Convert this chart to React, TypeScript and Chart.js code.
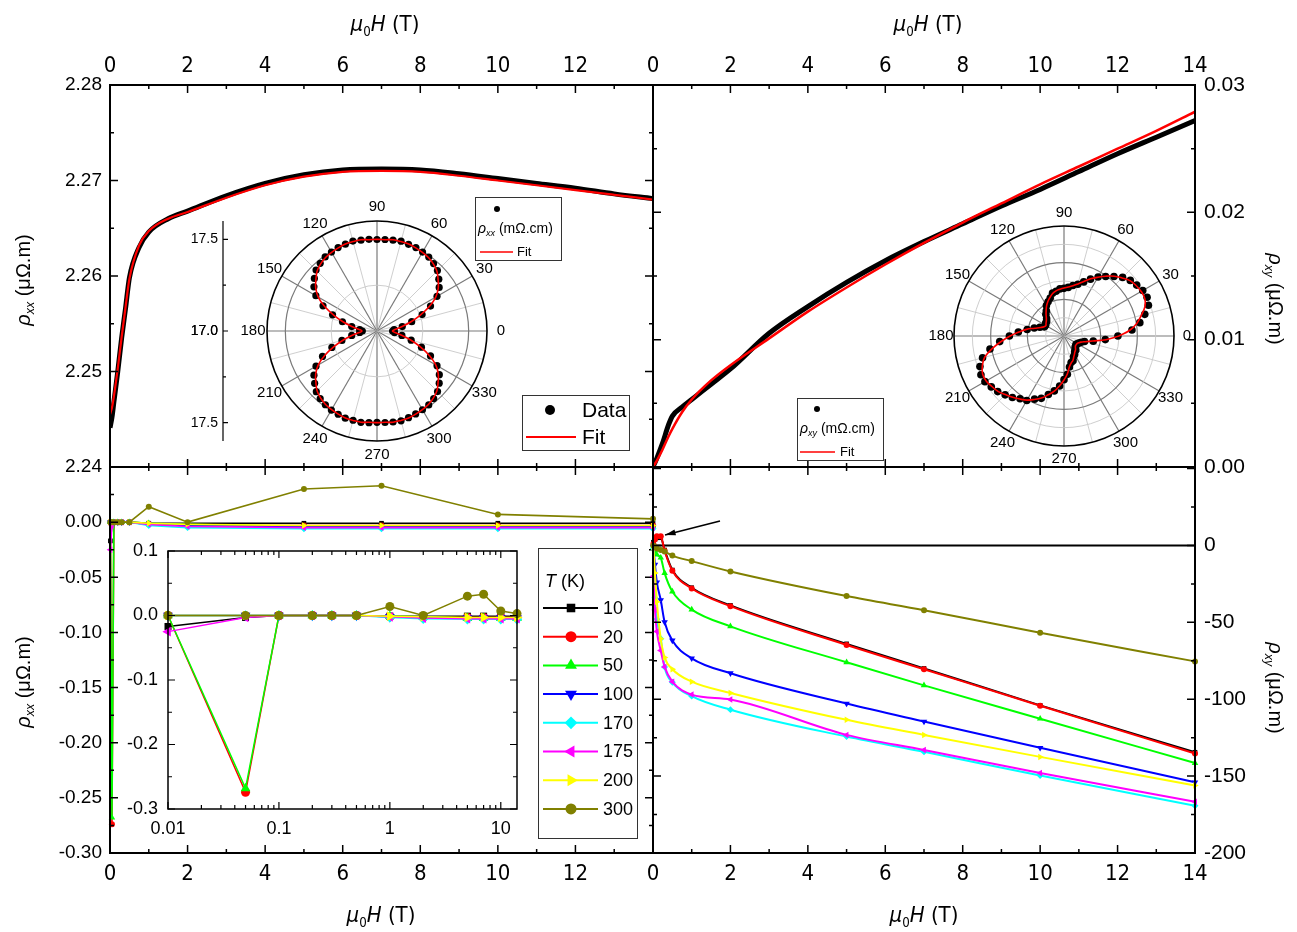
import React, { useEffect, useRef } from 'react';
import { Chart, registerables } from 'chart.js';

Chart.register(...registerables);

const W = 1297;
const HT = 932;
const SANS = "'Liberation Sans', Arial, Helvetica, sans-serif";
const NARROW = "'Liberation Sans Narrow', 'Arial Narrow', 'DejaVu Sans Condensed', 'Liberation Sans', sans-serif";

// ---------------- Top-left: rho_xx vs field ----------------
const H_XX = [0, 0.05, 0.1, 0.2, 0.3, 0.4, 0.5, 0.75, 1, 1.5, 2, 3, 4, 5, 6, 7, 8, 9, 10, 11, 12, 13, 14];
const RHO_XX_DATA = [2.2441, 2.2452, 2.2468, 2.25, 2.2535, 2.2566, 2.2598, 2.263, 2.2646, 2.266, 2.2668, 2.2684, 2.2697, 2.2706, 2.2711, 2.2712, 2.2711, 2.2707, 2.2702, 2.2697, 2.2692, 2.2686, 2.2681];
const RHO_XX_FIT = [2.2455, 2.2462, 2.2474, 2.2503, 2.2536, 2.2567, 2.2597, 2.2632, 2.2647, 2.266, 2.2667, 2.2682, 2.2695, 2.2704, 2.2709, 2.271, 2.2709, 2.2705, 2.27, 2.2695, 2.269, 2.2685, 2.268];

// ---------------- Top-right: rho_xy vs field ----------------
const H_XY = [0, 0.1, 0.25, 0.4, 0.5, 0.75, 1, 1.5, 2, 3, 4, 5, 6, 7, 8, 9, 10, 11, 12, 13, 14];
const RHO_XY_DATA = [0, 0.0007, 0.0019, 0.0033, 0.004, 0.0047, 0.0053, 0.0065, 0.0077, 0.0105, 0.0126, 0.0145, 0.0162, 0.0177, 0.0191, 0.0205, 0.0218, 0.0232, 0.0246, 0.0259, 0.0272];
const RHO_XY_FIT = [0, 0.0005, 0.0014, 0.0024, 0.003, 0.0043, 0.0053, 0.0068, 0.008, 0.0101, 0.0122, 0.0141, 0.0159, 0.0176, 0.0192, 0.0207, 0.0222, 0.0236, 0.025, 0.0264, 0.0279];

// ---------------- Polar insets (angle in degrees) ----------------
const ANGLES = [0, 5, 10, 15, 20, 25, 30, 35, 40, 45, 50, 55, 60, 65, 70, 75, 80, 85, 90, 95, 100, 105, 110, 115, 120, 125, 130, 135, 140, 145, 150, 155, 160, 165, 170, 175, 180, 185, 190, 195, 200, 205, 210, 215, 220, 225, 230, 235, 240, 245, 250, 255, 260, 265, 270, 275, 280, 285, 290, 295, 300, 305, 310, 315, 320, 325, 330, 335, 340, 345, 350, 355];
const POLAR_XX_FIT = [
  17.082, 17.098, 17.136, 17.19, 17.25, 17.315, 17.37, 17.408, 17.435, 17.462, 17.478, 17.489, 17.495, 17.5, 17.505, 17.505, 17.505, 17.5, 17.5,
  17.5, 17.505, 17.505, 17.505, 17.5, 17.495, 17.489, 17.478, 17.462, 17.435, 17.408, 17.37, 17.315, 17.25, 17.19, 17.136, 17.098, 17.082,
  17.098, 17.136, 17.19, 17.25, 17.315, 17.37, 17.408, 17.435, 17.462, 17.478, 17.489, 17.495, 17.5, 17.505, 17.505, 17.505, 17.5, 17.5,
  17.5, 17.505, 17.505, 17.505, 17.5, 17.495, 17.489, 17.478, 17.462, 17.435, 17.408, 17.37, 17.315, 17.25, 17.19, 17.136, 17.098];
const POLAR_XX_DATA = [
  17.085, 17.094, 17.14, 17.196, 17.262, 17.322, 17.378, 17.414, 17.44, 17.466, 17.48, 17.492, 17.497, 17.502, 17.503, 17.507, 17.503, 17.501, 17.499,
  17.502, 17.503, 17.508, 17.504, 17.502, 17.497, 17.493, 17.482, 17.47, 17.446, 17.42, 17.385, 17.325, 17.258, 17.195, 17.14, 17.095, 17.08,
  17.095, 17.14, 17.198, 17.262, 17.328, 17.384, 17.42, 17.444, 17.468, 17.482, 17.491, 17.498, 17.501, 17.506, 17.504, 17.506, 17.502, 17.498,
  17.501, 17.504, 17.507, 17.503, 17.499, 17.496, 17.492, 17.481, 17.467, 17.443, 17.415, 17.378, 17.322, 17.258, 17.193, 17.138, 17.096];
const POLAR_XY_FIT = [1.5, 1.8, 2.02, 2.18, 2.35, 2.43, 2.43, 2.4, 2.35, 2.24, 2.13, 1.99, 1.85, 1.72, 1.58, 1.47, 1.39, 1.34, 1.31, 1.28, 1.25, 1.2, 1.12, 1.04, 0.95, 0.85, 0.76, 0.68, 0.63, 0.6, 0.57, 0.6, 0.68, 0.82, 1.04, 1.23, 1.47, 1.72, 1.99, 2.24, 2.37, 2.45, 2.45, 2.4, 2.35, 2.26, 2.18, 2.1, 2.02, 1.91, 1.8, 1.66, 1.53, 1.36, 1.2, 1.04, 0.85, 0.76, 0.71, 0.63, 0.57, 0.52, 0.49, 0.44, 0.41, 0.41, 0.41, 0.44, 0.49, 0.6, 0.79, 1.15];
const POLAR_XY_DATA = [1.47, 1.86, 2.1, 2.28, 2.45, 2.5, 2.48, 2.42, 2.36, 2.26, 2.12, 1.98, 1.86, 1.71, 1.57, 1.46, 1.4, 1.33, 1.3, 1.29, 1.24, 1.21, 1.1, 1.03, 0.96, 0.84, 0.77, 0.67, 0.62, 0.61, 0.58, 0.59, 0.7, 0.84, 1.02, 1.25, 1.49, 1.76, 2.05, 2.3, 2.44, 2.5, 2.49, 2.42, 2.36, 2.27, 2.19, 2.09, 2.03, 1.9, 1.81, 1.65, 1.52, 1.37, 1.19, 1.05, 0.86, 0.75, 0.72, 0.62, 0.58, 0.51, 0.5, 0.43, 0.42, 0.4, 0.42, 0.45, 0.5, 0.58, 0.81, 1.13];
const POLAR_LABELS = [0, 30, 60, 90, 120, 150, 180, 210, 240, 270, 300, 330];
const RADIAL_MAJOR = [17.0, 17.5];
const RADIAL_MINOR = [17.25];

// ---------------- Bottom panels: temperature series ----------------
const TEMPS = ['10', '20', '50', '100', '170', '175', '200', '300'];
const T_COLORS = ['#000000', '#ff0000', '#00ff00', '#0000ff', '#00ffff', '#ff00ff', '#ffff00', '#808000'];
const T_STYLES = ['rect', 'circle', 'triangle', 'triangle', 'rectRot', 'triangle', 'triangle', 'circle'];
const T_ROT = [0, 0, 0, 180, 0, -90, 90, 0];
const T_SIZE = [1.1, 1, 1.25, 1.25, 1.15, 1.25, 1.25, 1];
const H_T = [0.01, 0.05, 0.1, 0.2, 0.3, 0.5, 1, 2, 5, 7, 10, 14];

const RXX_10 = [-0.017, -0.003, 0, 0, 0, 0, -0.001, -0.001, -0.001, -0.001, -0.001, -0.001];
const RXX_20 = [0, -0.274, 0, 0, 0, 0, -0.002, -0.003, -0.003, -0.003, -0.003, -0.003];
const RXX_50 = [0, -0.268, 0, 0, 0, 0, -0.001, -0.002, -0.004, -0.004, -0.004, -0.004];
const RXX_100 = [0, 0, 0, 0, 0, 0, -0.002, -0.003, -0.004, -0.004, -0.004, -0.004];
const RXX_170 = [0, 0, 0, 0, 0, 0, -0.003, -0.005, -0.006, -0.006, -0.006, -0.006];
const RXX_175 = [-0.025, -0.003, 0, 0, 0, 0, -0.002, -0.004, -0.005, -0.005, -0.005, -0.005];
const RXX_200 = [0, 0, 0, 0, 0, 0, -0.001, -0.002, -0.003, -0.003, -0.003, -0.003];
const RXX_300 = [0, 0, 0, 0, 0, 0, 0.014, 0.0, 0.03, 0.033, 0.007, 0.003];

const RXY_10 = [2, 4, 5, 5, -3, -16, -27.5, -39, -64, -80, -104, -134.5];
const RXY_20 = [1, 4, 6, 6, -3.5, -16.5, -28, -39.5, -64.7, -80.5, -104.2, -135.3];
const RXY_50 = [0, -3, -6, -8, -18, -30, -41.7, -52.6, -76, -91, -112.7, -141.5];
const RXY_100 = [-1, -12.5, -24, -35.5, -49.8, -61.8, -73.4, -83.1, -102.8, -114.5, -131.6, -154];
const RXY_170 = [-2, -34, -48, -60.7, -79, -89, -98, -106.8, -124.3, -134.2, -149.6, -169.3];
const RXY_175 = [-20, -42, -56, -68.4, -79, -88.6, -97, -100.2, -123.2, -133, -148, -166.7];
const RXY_200 = [-1, -18, -36.6, -60.7, -72.8, -80.5, -88.6, -95.9, -113.4, -123.2, -137.5, -156.1];
const RXY_300 = [0, -1, -2, -3, -4, -6.6, -10.2, -16.9, -32.9, -42.1, -56.8, -75.4];

// ---------------- Ticks ----------------
const X_TICKS = [0, 2, 4, 6, 8, 10, 12, 14];
const X_LABELS_LEFT = [0, 2, 4, 6, 8, 10, 12];
const Y_TL = [2.24, 2.25, 2.26, 2.27, 2.28];
const Y_BL = [0.05, 0, -0.05, -0.1, -0.15, -0.2, -0.25, -0.3];
const Y_BL_LABELS = [0, -0.05, -0.1, -0.15, -0.2, -0.25, -0.3];
const Y_TR = [0, 0.01, 0.02, 0.03];
const Y_BR = [50, 0, -50, -100, -150, -200];
const Y_BR_LABELS = [0, -50, -100, -150, -200];
const INSET_X = [0.01, 0.1, 1, 10];
const INSET_Y = [0.1, 0, -0.1, -0.2, -0.3];

// ---------------- helpers ----------------
const mid = (a: number[]) => {
  const s = [...a].sort((p, q) => p - q);
  const out: number[] = [];
  for (let i = 0; i < s.length - 1; i++) out.push((s[i] + s[i + 1]) / 2);
  return out;
};
const logMinor = (lo: number, hi: number) => {
  const out: number[] = [];
  for (let d = lo; d < hi; d *= 10) for (let k = 2; k <= 9; k++) if (k * d <= hi) out.push(k * d);
  return out;
};
const pts = (xs: number[], ys: number[]) => xs.map((x, i) => ({ x, y: ys[i] }));
const toXY = (r: number[], r0: number) =>
  ANGLES.map((a, i) => ({ x: (r[i] - r0) * Math.cos((a * Math.PI) / 180), y: (r[i] - r0) * Math.sin((a * Math.PI) / 180) }));

function axis(pos: string, min: number, max: number, ticks: number[], labels: number[], fmt: (v: number) => string, font: any, padding: number, size: number, type = 'linear') {
  const vertical = pos === 'left' || pos === 'right';
  return {
    type, position: pos, axis: vertical ? 'y' : 'x', min, max, _size: size,
    grid: { display: false, drawTicks: false }, border: { display: false },
    ticks: {
      display: labels.length > 0, color: '#000', font, padding, autoSkip: false, maxRotation: 0, minRotation: 0,
      callback: (v: any) => (labels.some((l) => Math.abs(l - Number(v)) < 1e-9) ? fmt(Number(v)) : ''),
    },
    afterBuildTicks: (s: any) => { s.ticks = ticks.map((v) => ({ value: v })); },
    afterFit: (s: any) => { if (vertical) s.width = size; else s.height = size; },
  };
}

function baseOptions(area: number[], scales: any) {
  const used: any = { left: 0, right: 0, top: 0, bottom: 0 };
  for (const k of Object.keys(scales)) {
    const s = scales[k];
    if (s.display === false) continue;
    used[s.position] += s._size || 0;
  }
  return {
    responsive: false, maintainAspectRatio: false, animation: false, devicePixelRatio: 1, events: [],
    layout: { autoPadding: false, padding: { left: area[0] - used.left, top: area[1] - used.top, right: W - area[2] - used.right, bottom: HT - area[3] - used.bottom } },
    scales,
    plugins: { legend: { display: false }, tooltip: { enabled: false }, title: { display: false } },
  };
}

function framePlug(spec: any) {
  return {
    id: 'frame',
    beforeDraw(chart: any) {
      if (!spec.bg) return;
      const a = chart.chartArea, ctx = chart.ctx;
      ctx.save(); ctx.fillStyle = spec.bg; ctx.fillRect(a.left, a.top, a.right - a.left, a.bottom - a.top); ctx.restore();
    },
    beforeDatasetsDraw(chart: any) {
      if (spec.zeroY === undefined) return;
      const a = chart.chartArea, ctx = chart.ctx;
      const y = chart.scales.y.getPixelForValue(spec.zeroY);
      ctx.save(); ctx.strokeStyle = '#000'; ctx.lineWidth = 2;
      ctx.beginPath(); ctx.moveTo(a.left, y); ctx.lineTo(a.right, y); ctx.stroke(); ctx.restore();
    },
    afterDatasetsDraw(chart: any) {
      const { ctx, chartArea: a } = chart;
      const xs = chart.scales.x, ys = chart.scales.y;
      const maj = spec.majorLen ?? 8, mnr = spec.minorLen ?? 4;
      ctx.save(); ctx.strokeStyle = '#000'; ctx.lineWidth = spec.tickWidth ?? 1.5;
      ctx.beginPath();
      const vx = (vals: number[], len: number) => {
        for (const v of vals) {
          const p = xs.getPixelForValue(v);
          if (p < a.left - 1 || p > a.right + 1) continue;
          ctx.moveTo(p, a.bottom); ctx.lineTo(p, a.bottom - len);
          ctx.moveTo(p, a.top); ctx.lineTo(p, a.top + len);
        }
      };
      const vy = (vals: number[], len: number) => {
        for (const v of vals) {
          const p = ys.getPixelForValue(v);
          if (p < a.top - 1 || p > a.bottom + 1) continue;
          ctx.moveTo(a.left, p); ctx.lineTo(a.left + len, p);
          ctx.moveTo(a.right, p); ctx.lineTo(a.right - len, p);
        }
      };
      vx(spec.xMajor, maj); vx(spec.xMinor, mnr); vy(spec.yMajor, maj); vy(spec.yMinor, mnr);
      ctx.stroke();
      ctx.lineWidth = spec.frameWidth ?? 2;
      ctx.strokeRect(a.left, a.top, a.right - a.left, a.bottom - a.top);
      ctx.restore();
    },
  };
}

function polarPlug(spec: any) {
  return {
    id: 'polarGrid',
    beforeDatasetsDraw(chart: any) {
      const ctx = chart.ctx; const xs = chart.scales.x, ys = chart.scales.y;
      const cx = xs.getPixelForValue(0), cy = ys.getPixelForValue(0);
      const R = xs.getPixelForValue(spec.rMax) - cx;
      ctx.save();
      for (let a = 0; a < 360; a += spec.minorStep) {
        const major = a % spec.majorStep === 0;
        ctx.strokeStyle = major ? '#7a7a7a' : '#c8c8c8'; ctx.lineWidth = major ? 1.2 : 0.9;
        const t = (a * Math.PI) / 180;
        ctx.beginPath(); ctx.moveTo(cx, cy); ctx.lineTo(cx + R * Math.cos(t), cy - R * Math.sin(t)); ctx.stroke();
      }
      for (const c of spec.circles) {
        ctx.strokeStyle = c.dark ? '#7a7a7a' : '#c8c8c8'; ctx.lineWidth = c.dark ? 1.2 : 0.9;
        ctx.beginPath(); ctx.arc(cx, cy, xs.getPixelForValue(c.r) - cx, 0, Math.PI * 2); ctx.stroke();
      }
      ctx.strokeStyle = '#000'; ctx.lineWidth = 1.6;
      ctx.beginPath(); ctx.arc(cx, cy, R, 0, Math.PI * 2); ctx.stroke();
      ctx.fillStyle = '#000'; ctx.font = `15px ${SANS}`; ctx.textAlign = 'center'; ctx.textBaseline = 'middle';
      for (const a of POLAR_LABELS) {
        const t = (a * Math.PI) / 180;
        ctx.fillText(String(a), cx + spec.labelR * Math.cos(t), cy - spec.labelR * Math.sin(t));
      }
      if (spec.axisX !== undefined) {
        const x = spec.axisX;
        ctx.strokeStyle = '#000'; ctx.lineWidth = 1.2;
        ctx.beginPath(); ctx.moveTo(x, cy - R); ctx.lineTo(x, cy + R);
        const tick = (v: number, len: number) => {
          const d = ys.getPixelForValue(v - spec.r0) - cy;
          ctx.moveTo(x, cy + d); ctx.lineTo(x + len, cy + d);
          ctx.moveTo(x, cy - d); ctx.lineTo(x + len, cy - d);
        };
        for (const v of RADIAL_MAJOR) tick(v, 5);
        for (const v of RADIAL_MINOR) tick(v, 3);
        ctx.stroke();
        ctx.font = `14px ${SANS}`; ctx.textAlign = 'right';
        for (const v of RADIAL_MAJOR) {
          const d = ys.getPixelForValue(v - spec.r0) - cy;
          ctx.fillText(v.toFixed(1), x - 5, cy + d);
          ctx.fillText(v.toFixed(1), x - 5, cy - d);
        }
      }
      ctx.restore();
    },
  };
}

type Seg = { t: string; i?: boolean; s?: boolean };
function drawRich(ctx: any, segs: Seg[], x: number, y: number, size: number, align = 'left') {
  const f = (g: Seg) => `${g.i ? 'italic ' : ''}${g.s ? Math.round(size * 0.65) : size}px ${SANS}`;
  let total = 0;
  for (const g of segs) { ctx.font = f(g); total += ctx.measureText(g.t).width; }
  let cx = align === 'center' ? x - total / 2 : align === 'right' ? x - total : x;
  ctx.textAlign = 'left'; ctx.textBaseline = 'middle'; ctx.fillStyle = '#000';
  for (const g of segs) { ctx.font = f(g); ctx.fillText(g.t, cx, y + (g.s ? size * 0.3 : 0)); cx += ctx.measureText(g.t).width; }
}
function drawMarker(ctx: any, style: string, x: number, y: number, r: number, color: string, rot = 0) {
  ctx.save(); ctx.translate(x, y); ctx.fillStyle = color; ctx.beginPath();
  let rad = (rot * Math.PI) / 180;
  if (style === 'circle') ctx.arc(0, 0, r, 0, Math.PI * 2);
  else if (style === 'rect') { const s = r * Math.SQRT1_2; ctx.rect(-s, -s, 2 * s, 2 * s); }
  else if (style === 'rectRot') { ctx.moveTo(0, -r); ctx.lineTo(r, 0); ctx.lineTo(0, r); ctx.lineTo(-r, 0); ctx.closePath(); }
  else if (style === 'triangle') {
    ctx.moveTo(Math.sin(rad) * r, -Math.cos(rad) * r);
    rad += (2 * Math.PI) / 3; ctx.lineTo(Math.sin(rad) * r, -Math.cos(rad) * r);
    rad += (2 * Math.PI) / 3; ctx.lineTo(Math.sin(rad) * r, -Math.cos(rad) * r);
    ctx.closePath();
  }
  ctx.fill(); ctx.restore();
}
function opsPlug(items: any[]) {
  return {
    id: 'ops',
    afterDraw(chart: any) {
      const ctx = chart.ctx;
      ctx.save();
      for (const it of items) {
        if (it.k === 'box') {
          ctx.fillStyle = '#fff'; ctx.fillRect(it.x, it.y, it.w, it.h);
          ctx.strokeStyle = '#333'; ctx.lineWidth = 1; ctx.strokeRect(it.x + 0.5, it.y + 0.5, it.w, it.h);
        } else if (it.k === 'text') drawRich(ctx, it.segs, it.x, it.y, it.size, it.align);
        else if (it.k === 'line') {
          ctx.strokeStyle = it.color; ctx.lineWidth = it.lw;
          ctx.beginPath(); ctx.moveTo(it.x1, it.y1); ctx.lineTo(it.x2, it.y2); ctx.stroke();
        } else if (it.k === 'mark') drawMarker(ctx, it.style, it.x, it.y, it.r, it.color, it.rot || 0);
        else if (it.k === 'arrow') {
          ctx.strokeStyle = '#000'; ctx.fillStyle = '#000'; ctx.lineWidth = 1.6;
          ctx.beginPath(); ctx.moveTo(it.x1, it.y1); ctx.lineTo(it.x2, it.y2); ctx.stroke();
          const ang = Math.atan2(it.y1 - it.y2, it.x1 - it.x2);
          ctx.beginPath(); ctx.moveTo(it.x2, it.y2);
          ctx.lineTo(it.x2 + 11 * Math.cos(ang + 0.28), it.y2 + 11 * Math.sin(ang + 0.28));
          ctx.lineTo(it.x2 + 11 * Math.cos(ang - 0.28), it.y2 + 11 * Math.sin(ang - 0.28));
          ctx.closePath(); ctx.fill();
        }
      }
      ctx.restore();
    },
  };
}

// ---------------- geometry ----------------
const L = 110, M = 653, R = 1195, TOP = 85, MID = 467, BOT = 853;
const XF = { family: NARROW, size: 22 };
const YFL = { family: SANS, size: 19 };
const YFR = { family: SANS, size: 21 };
const f2 = (v: number) => v.toFixed(2);
const fs = (v: number) => String(v);

const RXX_ALL = [RXX_10, RXX_20, RXX_50, RXX_100, RXX_170, RXX_175, RXX_200, RXX_300];
const RXY_ALL = [RXY_10, RXY_20, RXY_50, RXY_100, RXY_170, RXY_175, RXY_200, RXY_300];

const seriesSets = (vals: number[][], r: number, lw: number, smooth: boolean) =>
  vals.map((v, i) => ({
    data: pts(H_T, v), borderColor: T_COLORS[i], backgroundColor: T_COLORS[i], borderWidth: lw,
    pointStyle: T_STYLES[i], pointRotation: T_ROT[i], pointRadius: r * T_SIZE[i],
    pointBackgroundColor: T_COLORS[i], pointBorderColor: T_COLORS[i], pointBorderWidth: 0,
    cubicInterpolationMode: smooth ? 'monotone' : 'default', tension: 0, clip: false, order: -i,
  }));

const legendItems: any[] = [
  { k: 'box', x: 538, y: 548, w: 99, h: 290 },
  { k: 'text', x: 545, y: 582, segs: [{ t: 'T', i: true }, { t: ' (K)' }], size: 18 },
  ...TEMPS.flatMap((t, i) => {
    const y = 608 + i * 28.7;
    return [
      { k: 'line', x1: 543, y1: y, x2: 598, y2: y, color: T_COLORS[i], lw: 2 },
      { k: 'mark', x: 571, y, style: T_STYLES[i], r: 5.5 * T_SIZE[i], color: T_COLORS[i], rot: T_ROT[i] },
      { k: 'text', x: 603, y: y + 1, segs: [{ t }], size: 18 },
    ];
  }),
];

const makers: (() => any)[] = [
  // top-left
  () => ({
    type: 'line',
    data: { datasets: [
      { data: pts(H_XX, RHO_XX_FIT), borderColor: '#ff0000', borderWidth: 2.2, pointRadius: 0, cubicInterpolationMode: 'monotone', order: 0 },
      { data: pts(H_XX, RHO_XX_DATA), borderColor: '#000', borderWidth: 5, pointRadius: 0, cubicInterpolationMode: 'monotone', order: 1 },
    ] },
    options: baseOptions([L, TOP, M, MID], {
      x: axis('bottom', 0, 14, X_TICKS, [], fs, XF, 8, 1),
      x2: axis('top', 0, 14, X_TICKS, X_LABELS_LEFT, fs, XF, 6, 60),
      y: axis('left', 2.24, 2.28, Y_TL, Y_TL, f2, YFL, 8, 100),
    }),
    plugins: [
      framePlug({ xMajor: X_TICKS, xMinor: mid(X_TICKS), yMajor: Y_TL, yMinor: mid(Y_TL) }),
      opsPlug([
        { k: 'box', x: 522, y: 395, w: 107, h: 55 },
        { k: 'mark', x: 550, y: 410, style: 'circle', r: 5, color: '#000' },
        { k: 'text', x: 582, y: 411, segs: [{ t: 'Data' }], size: 21 },
        { k: 'line', x1: 526, y1: 437, x2: 576, y2: 437, color: '#ff0000', lw: 2 },
        { k: 'text', x: 582, y: 438, segs: [{ t: 'Fit' }], size: 21 },
      ]),
    ],
  }),
  // top-right
  () => ({
    type: 'line',
    data: { datasets: [
      { data: pts(H_XY, RHO_XY_FIT), borderColor: '#ff0000', borderWidth: 2.5, pointRadius: 0, cubicInterpolationMode: 'monotone', order: 0 },
      { data: pts(H_XY, RHO_XY_DATA), borderColor: '#000', borderWidth: 5, pointRadius: 0, cubicInterpolationMode: 'monotone', order: 1 },
    ] },
    options: baseOptions([M, TOP, R, MID], {
      x: axis('bottom', 0, 14, X_TICKS, [], fs, XF, 8, 1),
      x2: axis('top', 0, 14, X_TICKS, X_TICKS, fs, XF, 6, 60),
      y: axis('right', 0, 0.03, Y_TR, Y_TR, f2, YFR, 9, 95),
    }),
    plugins: [framePlug({ xMajor: X_TICKS, xMinor: mid(X_TICKS), yMajor: Y_TR, yMinor: mid(Y_TR) })],
  }),
  // bottom-left
  () => ({
    type: 'line',
    data: { datasets: seriesSets(RXX_ALL, 3, 1.6, false) },
    options: baseOptions([L, MID, M, BOT], {
      x: axis('bottom', 0, 14, X_TICKS, X_LABELS_LEFT, fs, XF, 8, 50),
      x2: axis('top', 0, 14, X_TICKS, [], fs, XF, 6, 1),
      y: axis('left', -0.3, 0.05, Y_BL, Y_BL_LABELS, f2, YFL, 8, 100),
    }),
    plugins: [framePlug({ xMajor: X_TICKS, xMinor: mid(X_TICKS), yMajor: Y_BL, yMinor: mid(Y_BL) }), opsPlug(legendItems)],
  }),
  // bottom-right
  () => ({
    type: 'line',
    data: { datasets: seriesSets(RXY_ALL, 3, 2, true) },
    options: baseOptions([M, MID, R, BOT], {
      x: axis('bottom', 0, 14, X_TICKS, X_TICKS, fs, XF, 8, 50),
      x2: axis('top', 0, 14, X_TICKS, [], fs, XF, 6, 1),
      y: axis('right', -200, 51, Y_BR, Y_BR_LABELS, fs, YFR, 9, 95),
    }),
    plugins: [
      framePlug({ xMajor: X_TICKS, xMinor: mid(X_TICKS), yMajor: Y_BR, yMinor: mid(Y_BR), zeroY: 0 }),
      opsPlug([{ k: 'arrow', x1: 720, y1: 521, x2: 665, y2: 535 }]),
    ],
  }),
  // inset: log field
  () => ({
    type: 'line',
    data: { datasets: seriesSets(RXX_ALL, 4.5, 1.5, false) },
    options: baseOptions([168, 551, 517, 809], {
      x: axis('bottom', 0.01, 14, INSET_X, INSET_X, fs, { family: SANS, size: 18 }, 9, 40, 'logarithmic'),
      y: axis('left', -0.3, 0.1, INSET_Y, INSET_Y, (v) => v.toFixed(1), { family: SANS, size: 18 }, 10, 60),
    }),
    plugins: [framePlug({ bg: '#fff', xMajor: INSET_X, xMinor: logMinor(0.01, 14), yMajor: INSET_Y, yMinor: mid(INSET_Y), majorLen: 7, minorLen: 4, frameWidth: 1.5, tickWidth: 1.2 })],
  }),
  // polar rho_xx
  () => ({
    type: 'scatter',
    data: { datasets: [
      { data: [...toXY(POLAR_XX_FIT, 17.0), toXY(POLAR_XX_FIT, 17.0)[0]], showLine: true, borderColor: '#ff0000', borderWidth: 1.6, pointRadius: 0, tension: 0.4, order: 0, clip: false },
      { data: toXY(POLAR_XX_DATA, 17.0), showLine: false, pointRadius: 3.6, pointBackgroundColor: '#000', pointBorderWidth: 0, order: 1, clip: false },
    ] },
    options: baseOptions([267, 221, 487, 441], {
      x: { type: 'linear', min: -0.6, max: 0.6, display: false },
      y: { type: 'linear', min: -0.6, max: 0.6, display: false },
    }),
    plugins: [
      polarPlug({ rMax: 0.6, r0: 17.0, minorStep: 15, majorStep: 30, labelR: 124, axisX: 223, circles: [{ r: 0.25, dark: false }, { r: 0.5, dark: true }] }),
      opsPlug([
        { k: 'box', x: 475, y: 197, w: 86, h: 63 },
        { k: 'mark', x: 497, y: 209, style: 'circle', r: 3, color: '#000' },
        { k: 'text', x: 478, y: 229, segs: [{ t: 'ρ', i: true }, { t: 'xx', i: true, s: true }, { t: ' (mΩ.cm)' }], size: 14 },
        { k: 'line', x1: 480, y1: 252, x2: 513, y2: 252, color: '#ff0000', lw: 1.5 },
        { k: 'text', x: 517, y: 252, segs: [{ t: 'Fit' }], size: 13 },
      ]),
    ],
  }),
  // polar rho_xy
  () => ({
    type: 'scatter',
    data: { datasets: [
      { data: [...toXY(POLAR_XY_FIT, 0), toXY(POLAR_XY_FIT, 0)[0]], showLine: true, borderColor: '#ff0000', borderWidth: 1.6, pointRadius: 0, tension: 0.4, order: 0, clip: false },
      { data: toXY(POLAR_XY_DATA, 0), showLine: false, pointRadius: 3.8, pointBackgroundColor: '#000', pointBorderWidth: 0, order: 1, clip: false },
    ] },
    options: baseOptions([954, 226, 1174, 446], {
      x: { type: 'linear', min: -3, max: 3, display: false },
      y: { type: 'linear', min: -3, max: 3, display: false },
    }),
    plugins: [
      polarPlug({ rMax: 3, r0: 0, minorStep: 15, majorStep: 30, labelR: 123, circles: [{ r: 0.5, dark: false }, { r: 1.5, dark: false }, { r: 2.5, dark: false }, { r: 1, dark: true }, { r: 2, dark: true }] }),
      opsPlug([
        { k: 'box', x: 797, y: 398, w: 86, h: 62 },
        { k: 'mark', x: 817, y: 409, style: 'circle', r: 3, color: '#000' },
        { k: 'text', x: 800, y: 429, segs: [{ t: 'ρ', i: true }, { t: 'xy', i: true, s: true }, { t: ' (mΩ.cm)' }], size: 14 },
        { k: 'line', x1: 800, y1: 452, x2: 835, y2: 452, color: '#ff0000', lw: 1.5 },
        { k: 'text', x: 840, y: 452, segs: [{ t: 'Fit' }], size: 13 },
      ]),
    ],
  }),
];

function Layer({ make }: { make: () => any }) {
  const ref = useRef<HTMLCanvasElement>(null);
  useEffect(() => {
    const c = new Chart(ref.current as HTMLCanvasElement, make());
    return () => c.destroy();
  }, [make]);
  return <canvas ref={ref} width={W} height={HT} style={{ position: 'absolute', left: 0, top: 0, width: W, height: HT }} />;
}

const XTitle = ({ x, y }: { x: number; y: number }) => (
  <div style={{ position: 'absolute', left: x, top: y, transform: 'translate(-50%, -50%)', font: `22px ${NARROW}`, whiteSpace: 'nowrap', color: '#000', lineHeight: 1 }}>
    <i>μ</i><span style={{ fontSize: '0.6em', position: 'relative', top: '0.35em' }}>0</span><i>H</i> (T)
  </div>
);
const YTitle = ({ x, y, sub, rot }: { x: number; y: number; sub: string; rot: number }) => (
  <div style={{ position: 'absolute', left: x, top: y, transform: `translate(-50%, -50%) rotate(${rot}deg)`, font: `20px ${SANS}`, whiteSpace: 'nowrap', color: '#000', lineHeight: 1 }}>
    <i>ρ</i><span style={{ fontSize: '0.62em', fontStyle: 'italic', position: 'relative', top: '0.35em' }}>{sub}</span> (μΩ.m)
  </div>
);

export default function App() {
  return (
    <div style={{ position: 'absolute', left: 0, top: 0, width: W, height: HT, background: '#fff', overflow: 'hidden' }}>
      {makers.map((m, i) => <Layer key={i} make={m} />)}
      <XTitle x={385} y={24} />
      <XTitle x={928} y={24} />
      <XTitle x={381} y={915} />
      <XTitle x={924} y={915} />
      <YTitle x={23} y={280} sub="xx" rot={-90} />
      <YTitle x={23} y={682} sub="xx" rot={-90} />
      <YTitle x={1276} y={299} sub="xy" rot={90} />
      <YTitle x={1276} y={688} sub="xy" rot={90} />
    </div>
  );
}
